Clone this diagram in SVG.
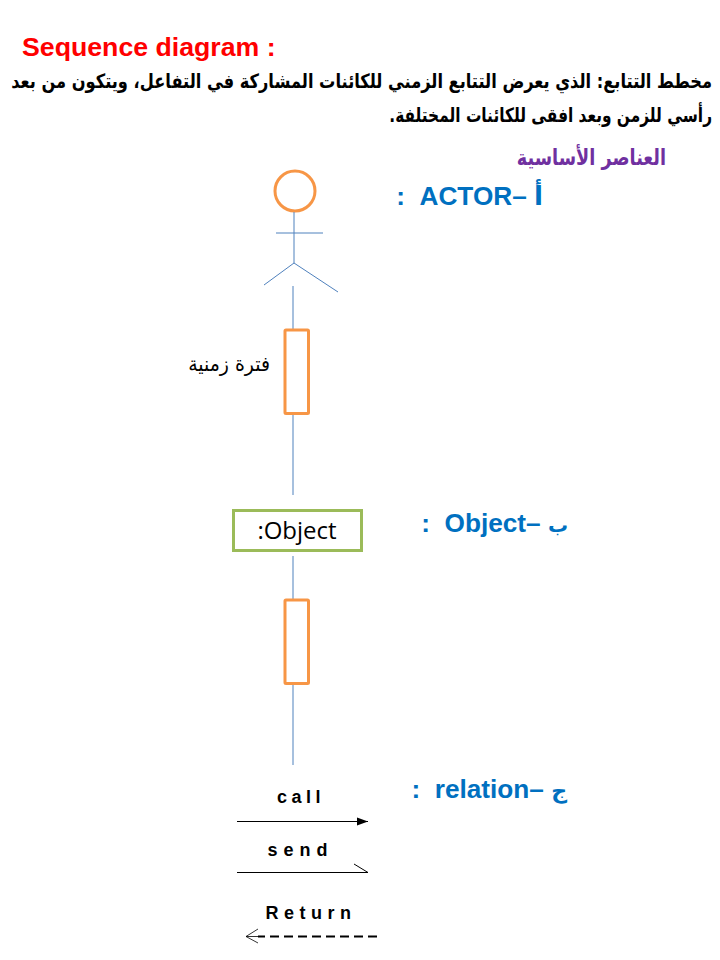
<svg xmlns="http://www.w3.org/2000/svg" width="720" height="960" viewBox="0 0 720 960">
<style>
text{font-family:"Liberation Sans","DejaVu Sans",sans-serif;white-space:pre}
.ar{font-family:"DejaVu Sans","Noto Sans",sans-serif;font-weight:700;direction:rtl}
.head{font-weight:700;font-size:26.200px;fill:#0070c0;direction:rtl}
.life{stroke:#4f81bd;stroke-width:1;fill:none}
.act{fill:#fff;stroke:#f79646;stroke-width:3}
.msg{font-weight:700;font-size:18px;fill:#000;text-anchor:middle;letter-spacing:4.500px}
.wide{letter-spacing:5.500px}
.conn{stroke:#000;stroke-width:1;fill:none}
</style>
<defs>
<marker id="solid" markerUnits="userSpaceOnUse" markerWidth="12" markerHeight="10" refX="11" refY="5" orient="auto"><path d="M0,1 L11,5 L0,9 Z" fill="#000"/></marker>
</defs>
<g id="heading">
<text x="22" y="56" font-size="26.700" font-weight="700" fill="#f00">Sequence diagram :</text>
<text class="ar" transform="translate(712,88) scale(.902,1.1)" font-size="18" text-anchor="start">مخطط التتابع: الذي يعرض التتابع الزمني للكائنات المشاركة في التفاعل، ويتكون من بعد</text>
<text class="ar" transform="translate(712,122) scale(.855,1.1)" font-size="18" text-anchor="start">رأسي للزمن وبعد افقى للكائنات المختلفة.</text>
<text class="ar" transform="translate(666,165) scale(.93,1.15)" font-size="19" fill="#7030a0" text-anchor="start">العناصر الأساسية</text>
</g>
<g id="actor">
<circle class="act" cx="295" cy="191" r="20"/>
<path class="life" d="M294,212 V263 M276,233 H323 M294,263 L264,285 M294,263 L338,292"/>
<text class="head" x="543" y="205">أ –ACTOR  :</text>
</g>
<g id="connectors">
<path class="life" d="M293,286 V330 M293,414 V495 M293,556 V600 M293,684 V765"/>
</g>
<g id="activation-1">
<rect class="act" x="285" y="330" width="23.500" height="83.500" rx="1"/>
<text transform="translate(270,371) scale(1.05,1.15)" class="ar" style="font-weight:400" font-size="18" fill="#000" text-anchor="start">فترة زمنية</text>
</g>
<g id="object">
<rect x="233.500" y="510.500" width="128" height="40" fill="#fff" stroke="#9bbb59" stroke-width="3"/>
<text x="297" y="539" font-size="24" fill="#000" text-anchor="middle" style="font-family:'Open Sans','Liberation Sans',sans-serif">:Object</text>
<text class="head" x="568" y="532"><tspan font-size="20">ب</tspan> –Object  :</text>
</g>
<g id="activation-2">
<rect class="act" x="285" y="600" width="23.500" height="83.500" rx="1"/>
</g>
<g id="relation">
<text class="head" x="567" y="798"><tspan font-size="22">ج</tspan> –relation  :</text>
<text class="msg" x="301" y="803">call</text>
<path class="conn" d="M237,821.500 H368" marker-end="url(#solid)"/>
<text class="msg wide" x="300.500" y="856" style="letter-spacing:6px">send</text>
<path class="conn" d="M237,872.500 H368 L354,864"/>
<text class="msg wide" x="311" y="919">Return</text>
<path class="conn" d="M377,936.500 H258" style="stroke-dasharray:9 5;stroke-width:2"/>
<path class="conn" d="M258,929 L246,936.500 L258,943 M246,936.500 H258" style="stroke-width:.8"/>
</g>
</svg>
